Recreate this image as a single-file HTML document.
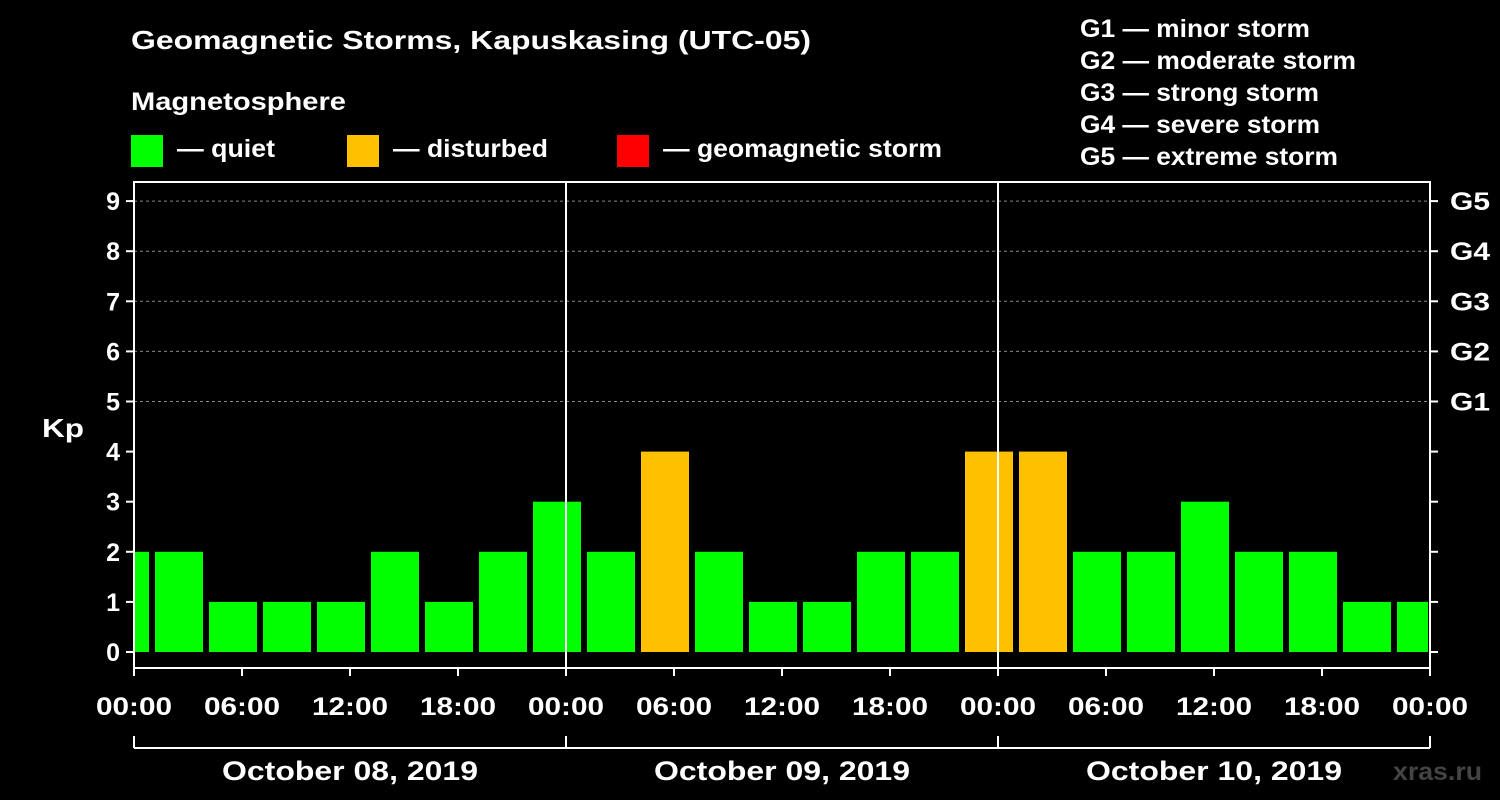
<!DOCTYPE html>
<html><head><meta charset="utf-8"><style>
body{margin:0;background:#000;}
svg{display:block;font-family:"Liberation Sans",sans-serif;font-weight:bold;}
</style></head><body>
<svg id="chart" width="1500" height="800" xmlns="http://www.w3.org/2000/svg">
<rect width="1500" height="800" fill="#000"/>
<text x="131" y="49" fill="#fff" font-size="26" textLength="680" lengthAdjust="spacingAndGlyphs">Geomagnetic Storms, Kapuskasing (UTC-05)</text>
<text x="131" y="110" fill="#fff" font-size="25" textLength="215" lengthAdjust="spacingAndGlyphs">Magnetosphere</text>
<g><rect x="131" y="135" width="32" height="32" fill="#00ff00"/><text x="177" y="157" fill="#fff" font-size="25" textLength="98" lengthAdjust="spacingAndGlyphs">— quiet</text></g>
<g><rect x="347" y="135" width="32" height="32" fill="#ffc000"/><text x="393" y="157" fill="#fff" font-size="25" textLength="155" lengthAdjust="spacingAndGlyphs">— disturbed</text></g>
<g><rect x="617" y="135" width="32" height="32" fill="#ff0000"/><text x="663" y="157" fill="#fff" font-size="25" textLength="279" lengthAdjust="spacingAndGlyphs">— geomagnetic storm</text></g>
<g fill="#fff" font-size="25" lengthAdjust="spacingAndGlyphs">
<text x="1080" y="37" textLength="230" lengthAdjust="spacingAndGlyphs">G1 — minor storm</text>
<text x="1080" y="69" textLength="276" lengthAdjust="spacingAndGlyphs">G2 — moderate storm</text>
<text x="1080" y="101" textLength="239" lengthAdjust="spacingAndGlyphs">G3 — strong storm</text>
<text x="1080" y="133" textLength="240" lengthAdjust="spacingAndGlyphs">G4 — severe storm</text>
<text x="1080" y="165" textLength="258" lengthAdjust="spacingAndGlyphs">G5 — extreme storm</text>
</g>
<text x="42" y="437" fill="#fff" font-size="26" textLength="42" lengthAdjust="spacingAndGlyphs">Kp</text>
<text x="1393" y="780" fill="#444" font-size="25" textLength="89" lengthAdjust="spacingAndGlyphs">xras.ru</text>
<g id="plot"></g>
</svg>
<script>
const kpValues=[2,2,1,1,1,2,1,2,3,2,4,2,1,1,2,2,4,4,2,2,3,2,2,1,1];
const yTicks=[0,1,2,3,4,5,6,7,8,9];
const gLabels=["G1","G2","G3","G4","G5"];
const xTickLabels=["00:00","06:00","12:00","18:00","00:00","06:00","12:00","18:00","00:00","06:00","12:00","18:00","00:00"];
const dateLabels=["October 08, 2019","October 09, 2019","October 10, 2019"];
const X0=134,X1=1430,PXH=18,Y0=652,PYU=50.1,TOP=182,BOT=668;
const xs=h=>X0+h*PXH, ys=v=>Y0-v*PYU;
const NS="http://www.w3.org/2000/svg", g=document.getElementById('plot');
function mk(t,a,txt){const e=document.createElementNS(NS,t);for(const k in a)e.setAttribute(k,a[k]);if(txt!=null)e.textContent=txt;g.appendChild(e);return e;}
gLabels.forEach((l,i)=>{const v=5+i;
 const ln=mk('line',{x1:X0,x2:X1,y1:ys(v),y2:ys(v),stroke:'#888','stroke-dasharray':'3,3','stroke-width':1});
 
 
 const t=mk('text',{x:1450,y:ys(v)+9,fill:'#fff','font-size':25,textLength:40,lengthAdjust:'spacingAndGlyphs'},l);
 
 
});
kpValues.forEach((v,i)=>{
 let s=xs(-2+3*i)+3,e=xs(1+3*i)-3; s=Math.max(s,X0+1); e=Math.min(e,X1-2);
 const r=mk('rect',{x:s,y:ys(v),width:e-s,height:Y0-ys(v),fill:v>=5?'#ff0000':(v>=4?'#ffc000':'#00ff00')});
 
 
});
const fr=mk('rect',{x:X0,y:TOP,width:X1-X0,height:BOT-TOP,fill:'none',stroke:'#fff','stroke-width':2});


[1,2].forEach(d=>{const l=mk('line',{x1:xs(24*d),x2:xs(24*d),y1:TOP,y2:BOT,stroke:'#fff','stroke-width':2});
 
 });
yTicks.forEach(v=>{
 mk('line',{x1:X0-8,x2:X0,y1:ys(v),y2:ys(v),stroke:'#fff','stroke-width':2});
 mk('line',{x1:X1,x2:X1+8,y1:ys(v),y2:ys(v),stroke:'#fff','stroke-width':2});
 const t=mk('text',{x:X0-14,y:ys(v)+9,fill:'#fff','font-size':25,'text-anchor':'end'},v);
 
 
});
xTickLabels.forEach((l,i)=>{const x=xs(6*i);
 mk('line',{x1:x,x2:x,y1:BOT,y2:BOT+8,stroke:'#fff','stroke-width':2});
 const t=mk('text',{x:x,y:715,fill:'#fff','font-size':25,'text-anchor':'middle',textLength:76,lengthAdjust:'spacingAndGlyphs'},l);
 
 
});
mk('line',{x1:X0,x2:X1,y1:748,y2:748,stroke:'#fff','stroke-width':2});
[0,1,2,3].forEach(d=>mk('line',{x1:xs(24*d),x2:xs(24*d),y1:736,y2:748,stroke:'#fff','stroke-width':2}));
dateLabels.forEach((l,d)=>{const t=mk('text',{x:xs(24*d+12),y:780,fill:'#fff','font-size':27,'text-anchor':'middle',textLength:256,lengthAdjust:'spacingAndGlyphs'},l);
 
 });
</script>
</body></html>
